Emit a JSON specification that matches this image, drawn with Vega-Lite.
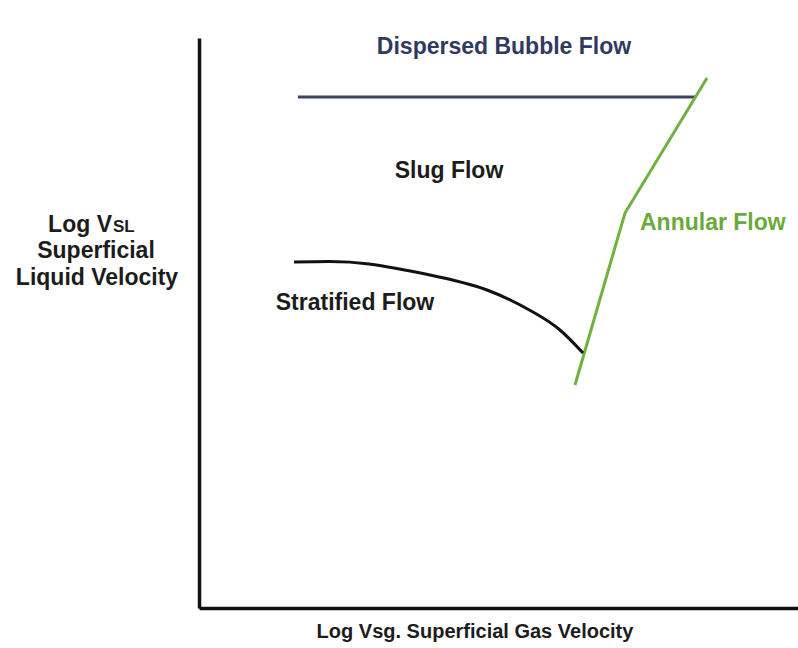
{
  "$schema": "https://vega.github.io/schema/vega-lite/v6.json",
  "width": 599,
  "height": 570,
  "padding": {"left": 199, "top": 38, "right": 0, "bottom": 40},
  "autosize": {"type": "none"},
  "background": "white",
  "config": {"view": {"stroke": null}, "font": "Liberation Sans"},
  "resolve": {"scale": {"color": "independent"}},
  "datasets": {
    "lines": [
      {"series": "bubble", "order": 1, "x": 99, "y": 511},
      {"series": "bubble", "order": 2, "x": 496, "y": 511},
      {"series": "annular", "order": 1, "x": 376, "y": 223},
      {"series": "annular", "order": 2, "x": 426, "y": 395},
      {"series": "annular", "order": 3, "x": 508, "y": 530}
    ],
    "curve": [
      {"x": 95, "y": 346},
      {"x": 130, "y": 346.5},
      {"x": 170, "y": 344},
      {"x": 231, "y": 333},
      {"x": 288, "y": 318},
      {"x": 334, "y": 296},
      {"x": 361, "y": 278},
      {"x": 384, "y": 255}
    ],
    "centered": [
      {"text": "Dispersed Bubble Flow", "x": 305, "y": 561, "kind": "bubble", "size": 23},
      {"text": "Slug Flow", "x": 250, "y": 437, "kind": "black", "size": 23},
      {"text": "Stratified Flow", "x": 156, "y": 305, "kind": "black", "size": 23},
      {"text": "Superficial", "x": -103, "y": 357, "kind": "black", "size": 23},
      {"text": "Liquid Velocity", "x": -102, "y": 330, "kind": "black", "size": 23},
      {"text": "Log Vsg. Superficial Gas Velocity", "x": 276, "y": -24, "kind": "black", "size": 20}
    ],
    "lefts": [
      {"text": "Annular Flow", "x": 441, "y": 385, "kind": "annular", "size": 23}
    ],
    "vslRight": [
      {"text": "Log V", "x": -87, "y": 376, "size": 23}
    ],
    "vslLeft": [
      {"text": "SL", "x": -86, "y": 376, "size": 17}
    ]
  },
  "layer": [
    {
      "data": {"name": "lines"},
      "mark": {"type": "line", "strokeWidth": 3, "clip": false},
      "encoding": {
        "x": {"field": "x", "type": "quantitative", "scale": {"domain": [0, 599], "nice": false, "zero": false},
          "axis": {"title": null, "labels": false, "ticks": false, "grid": false, "domainColor": "#111111", "domainWidth": 3.5}},
        "y": {"field": "y", "type": "quantitative", "scale": {"domain": [0, 570], "nice": false, "zero": false},
          "axis": {"title": null, "labels": false, "ticks": false, "grid": false, "domainColor": "#111111", "domainWidth": 3.5}},
        "detail": {"field": "series"},
        "order": {"field": "order"},
        "color": {"field": "series", "type": "nominal", "legend": null,
          "scale": {"domain": ["bubble", "annular"], "range": ["#3b4560", "#6db33f"]}}
      }
    },
    {
      "data": {"name": "curve"},
      "mark": {"type": "line", "strokeWidth": 3, "color": "#111111", "interpolate": "natural", "clip": false},
      "encoding": {
        "x": {"field": "x", "type": "quantitative"},
        "y": {"field": "y", "type": "quantitative"}
      }
    },
    {
      "data": {"name": "centered"},
      "mark": {"type": "text", "fontWeight": "bold", "baseline": "middle", "align": "center", "clip": false},
      "encoding": {
        "x": {"field": "x", "type": "quantitative"},
        "y": {"field": "y", "type": "quantitative"},
        "text": {"field": "text"},
        "size": {"field": "size", "type": "quantitative", "scale": null},
        "color": {"field": "kind", "type": "nominal", "legend": null,
          "scale": {"domain": ["bubble", "annular", "black"], "range": ["#2f3a60", "#6db33f", "#1c1c1c"]}}
      }
    },
    {
      "data": {"name": "lefts"},
      "mark": {"type": "text", "fontWeight": "bold", "baseline": "middle", "align": "left", "clip": false, "color": "#6aaa3a"},
      "encoding": {
        "x": {"field": "x", "type": "quantitative"},
        "y": {"field": "y", "type": "quantitative"},
        "text": {"field": "text"},
        "size": {"field": "size", "type": "quantitative", "scale": null}
      }
    },
    {
      "data": {"name": "vslRight"},
      "mark": {"type": "text", "fontWeight": "bold", "baseline": "alphabetic", "align": "right", "clip": false, "color": "#1c1c1c"},
      "encoding": {
        "x": {"field": "x", "type": "quantitative"},
        "y": {"field": "y", "type": "quantitative"},
        "text": {"field": "text"},
        "size": {"field": "size", "type": "quantitative", "scale": null}
      }
    },
    {
      "data": {"name": "vslLeft"},
      "mark": {"type": "text", "fontWeight": "bold", "baseline": "alphabetic", "align": "left", "clip": false, "color": "#1c1c1c"},
      "encoding": {
        "x": {"field": "x", "type": "quantitative"},
        "y": {"field": "y", "type": "quantitative"},
        "text": {"field": "text"},
        "size": {"field": "size", "type": "quantitative", "scale": null}
      }
    }
  ]
}
